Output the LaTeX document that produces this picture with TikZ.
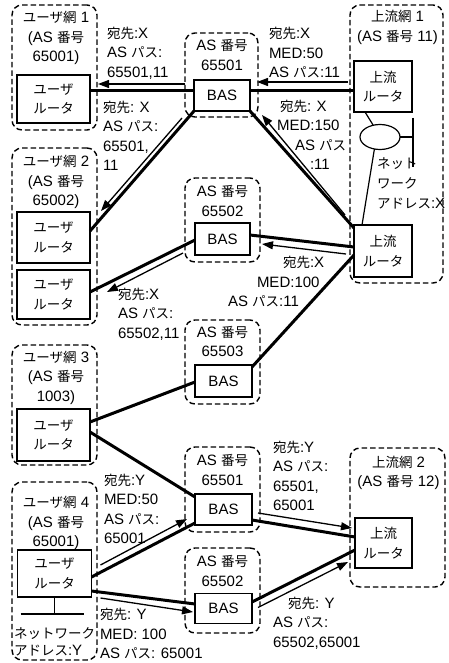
\documentclass[tikz,border=0pt]{standalone}
\usepackage{fontspec}
\setmainfont{Liberation Sans}
\newfontfamily\jpfont[Scale=0.9]{Noto Sans CJK JP}
\newcommand\J[1]{{\jpfont #1}}
\usetikzlibrary{arrows.meta,shapes.geometric}
\begin{document}
\begin{tikzpicture}[x=1pt,y=-1pt,
  every node/.style={font=\fontsize{15}{19.5}\selectfont, inner sep=0pt, outer sep=0pt},
  grp/.style={draw, dash pattern=on 5.5pt off 3pt, line width=1.4pt, rounded corners=10pt},
  rbox/.style={draw, line width=1.3pt, align=center},
  ttl/.style={align=center},
  lbl/.style={align=left, anchor=west},
  link/.style={line width=3pt},
  msg/.style={line width=1.3pt, -{Triangle[length=11pt,width=8pt]}},
  thin/.style={line width=1.2pt}
]
\useasboundingbox (0,0) rectangle (448,663);
\fill[white] (0,0) rectangle (448,663);

% groups
\node[grp, minimum width=85pt, minimum height=125pt] (gu1) at (54.5,67.5) {};
\node[grp, minimum width=85pt, minimum height=177pt] (gu2) at (54.5,236.5) {};
\node[grp, minimum width=85pt, minimum height=120pt] (gu3) at (54.5,405) {};
\node[grp, minimum width=85pt, minimum height=178pt] (gu4) at (54.5,571) {};
\node[grp, minimum width=73pt, minimum height=84pt] (gb1) at (221.5,75) {};
\node[grp, minimum width=75pt, minimum height=84pt] (gb2) at (222.5,220) {};
\node[grp, minimum width=75pt, minimum height=84pt] (gb3) at (222.5,362) {};
\node[grp, minimum width=75pt, minimum height=85pt] (gb4) at (222.5,489.5) {};
\node[grp, minimum width=75pt, minimum height=85pt] (gb5) at (222.5,590.5) {};
\node[grp, minimum width=93pt, minimum height=278pt] (gup1) at (396.5,144) {};
\node[grp, minimum width=95pt, minimum height=139pt] (gup2) at (397.5,517.5) {};

% titles
\node[ttl] (tu1) at (56,38) {\J{ユーザ網} 1\\(AS \J{番号}\\65001)};
\node[ttl] (tu2) at (56,182) {\J{ユーザ網} 2\\(AS \J{番号}\\65002)};
\node[ttl] (tu3) at (56,377.5) {\J{ユーザ網} 3\\(AS \J{番号}\\1003)};
\node[ttl] (tu4) at (56,523) {\J{ユーザ網} 4\\(AS \J{番号}\\65001)};
\node[ttl] (tb1) at (222,55) {AS \J{番号}\\65501};
\node[ttl] (tb2) at (222.5,201) {AS \J{番号}\\65502};
\node[ttl] (tb3) at (222.5,341.5) {AS \J{番号}\\65503};
\node[ttl] (tb4) at (222.5,470) {AS \J{番号}\\65501};
\node[ttl] (tb5) at (222.5,571) {AS \J{番号}\\65502};
\node[ttl] (tup1) at (397.5,27.5) {\J{上流網} 1\\(AS \J{番号} 11)};
\node[ttl] (tup2) at (398.5,473) {\J{上流網} 2\\(AS \J{番号} 12)};

% routers
\node[rbox, minimum width=73pt, minimum height=48pt] (ur1) at (53.5,99) {\J{ユーザ}\\\J{ルータ}};
\node[rbox, minimum width=73pt, minimum height=51pt] (ur2a) at (53.5,237.5) {\J{ユーザ}\\\J{ルータ}};
\node[rbox, minimum width=73pt, minimum height=49pt] (ur2b) at (53.5,294.5) {\J{ユーザ}\\\J{ルータ}};
\node[rbox, minimum width=73pt, minimum height=52pt] (ur3) at (53.5,435) {\J{ユーザ}\\\J{ルータ}};
\node[rbox, minimum width=74pt, minimum height=47pt] (ur4) at (54.5,573.5) {\J{ユーザ}\\\J{ルータ}};
\node[rbox, minimum width=58pt, minimum height=51pt] (up1) at (383,86.5) {\J{上流}\\\J{ルータ}};
\node[rbox, minimum width=58pt, minimum height=52pt] (up2) at (383,251) {\J{上流}\\\J{ルータ}};
\node[rbox, minimum width=57pt, minimum height=50pt] (up3) at (383.5,543) {\J{上流}\\\J{ルータ}};
\node[rbox, minimum width=56pt, minimum height=31pt] (bas1) at (222,95.5) {BAS};
\node[rbox, minimum width=55pt, minimum height=32pt] (bas2) at (222.5,239) {BAS};
\node[rbox, minimum width=57pt, minimum height=32pt] (bas3) at (223.5,381) {BAS};
\node[rbox, minimum width=57pt, minimum height=31pt] (bas4) at (223.5,509.5) {BAS};
\node[rbox, minimum width=57pt, minimum height=30pt] (bas5) at (223.5,608.5) {BAS};

% network X
\node[draw, ellipse, line width=1.2pt, minimum width=40pt, minimum height=25pt] (netx) at (380,137) {};
\coordinate (barx) at (413,137);
\draw[thin] ([shift={(-18,25.5)}]up1.center) -- (netx.120);
\draw[thin] (netx.245) -- ([shift={(-21,-26)}]up2.center);
\draw[thin] (netx.east) -- (barx);
\draw[thin] ([shift={(0,-19)}]barx) -- ([shift={(0,30)}]barx);

% network Y
\coordinate (bary) at (54.5,614);
\draw[thin] (ur4.south) -- (bary);
\draw[thin] ([shift={(-34,0)}]bary) -- ([shift={(29,0)}]bary);

% links
\draw[link] ([shift={(36.5,-8)}]ur1.center) -- ([shift={(-28,-4.5)}]bas1.center);
\draw[link] ([shift={(28,-4.5)}]bas1.center) -- ([shift={(-29,4.5)}]up1.center);
\draw[link] ([shift={(-28,15.5)}]bas1.center) -- ([shift={(36.5,-6.5)}]ur2a.center);
\draw[link] ([shift={(28,15.5)}]bas1.center) -- ([shift={(-29,-23)}]up2.center);
\draw[link] ([shift={(-29,-4)}]up2.center) -- ([shift={(27.5,-4)}]bas2.center);
\draw[link] ([shift={(-29,4)}]up2.center) -- ([shift={(28.5,-14)}]bas3.center);
\draw[link] ([shift={(-27.5,1)}]bas2.center) -- ([shift={(36.5,-2.5)}]ur2b.center);
\draw[link] ([shift={(36.5,-13)}]ur3.center) -- ([shift={(-28.5,1)}]bas3.center);
\draw[link] ([shift={(36.5,-3)}]ur3.center) -- ([shift={(-28.5,-12.5)}]bas4.center);
\draw[link] ([shift={(37,3.5)}]ur4.center) -- ([shift={(-28.5,13.5)}]bas4.center);
\draw[link] ([shift={(37,17.5)}]ur4.center) -- ([shift={(-28.5,-4.5)}]bas5.center);
\draw[link] ([shift={(28.5,10.5)}]bas4.center) -- ([shift={(-28.5,-6)}]up3.center);
\draw[link] ([shift={(28.5,-6.5)}]bas5.center) -- ([shift={(-28.5,7)}]up3.center);

% messages
\draw[msg] ([shift={(-37,-11.5)}]bas1.center) -- ([shift={(44.5,-15)}]ur1.center);
\draw[msg] ([shift={(-35,-4.5)}]up1.center) -- ([shift={(35,-13.5)}]bas1.center);
\draw[msg] ([shift={(-40,22.5)}]bas1.center) -- ([shift={(47.5,-26.5)}]ur2a.center);
\draw[msg] ([shift={(-38,-36)}]up2.center) -- ([shift={(40,19.5)}]bas1.center);
\draw[msg] ([shift={(-37,3)}]up2.center) -- ([shift={(39.5,5)}]bas2.center);
\draw[msg] ([shift={(-39.5,14)}]bas2.center) -- ([shift={(53.5,-2.5)}]ur2b.center);
\draw[msg] ([shift={(46,-8.5)}]ur4.center) -- ([shift={(-36.5,9.5)}]bas4.center);
\draw[msg] ([shift={(46,24.5)}]ur4.center) -- ([shift={(-30.5,3.5)}]bas5.center);
\draw[msg] ([shift={(34.5,3.5)}]bas4.center) -- ([shift={(-31.5,-15)}]up3.center);
\draw[msg] ([shift={(34.5,-1)}]bas5.center) -- ([shift={(-35.5,19)}]up3.center);

% labels
\node[lbl] (lb1) at (107,53) {\J{宛先}:X\\AS \J{パス}:\\65501,11};
\node[lbl] (lb2) at (103,136) {\J{宛先}: X\\AS \J{パス}:\\65501,\\11};
\node[lbl] (lb3) at (269,53) {\J{宛先}:X\\MED:50\\AS \J{パス}:11};
\node[lbl] (lb4) at (277,135) {\hspace*{3pt}\J{宛先}: X\\MED:150\\\hspace*{18pt}AS \J{パス}\\\hspace*{33pt}:11};
\node[lbl] (lb5) at (228,282) {\hspace*{55pt}\J{宛先}:X\\\hspace*{29pt}MED:100\\AS \J{パス}:11};
\node[lbl] (lb6) at (118,314) {\J{宛先}:X\\AS \J{パス}:\\65502,11};
\node[lbl] (lb7) at (104,509) {\J{宛先}:Y\\MED:50\\AS \J{パス}:\\65001};
\node[lbl] (lb8) at (100,634) {\J{宛先}: Y\\MED: 100\\AS \J{パス}: 65001};
\node[lbl] (lb9) at (273,476) {\J{宛先}:Y\\AS \J{パス}:\\65501,\\65001};
\node[lbl] (lb10) at (273,623) {\hspace*{15pt}\J{宛先}: Y\\AS \J{パス}:\\65502,65001};
\node[lbl, font=\fontsize{15}{20}\selectfont] (lb11) at (377,183) {\J{ネット}\\\J{ワーク}\\\J{アドレス}:X};
\node[lbl, font=\fontsize{15}{17}\selectfont] (lb12) at (14,641.5) {\J{ネットワーク}\\\J{アドレス}:Y};
\end{tikzpicture}
\end{document}
